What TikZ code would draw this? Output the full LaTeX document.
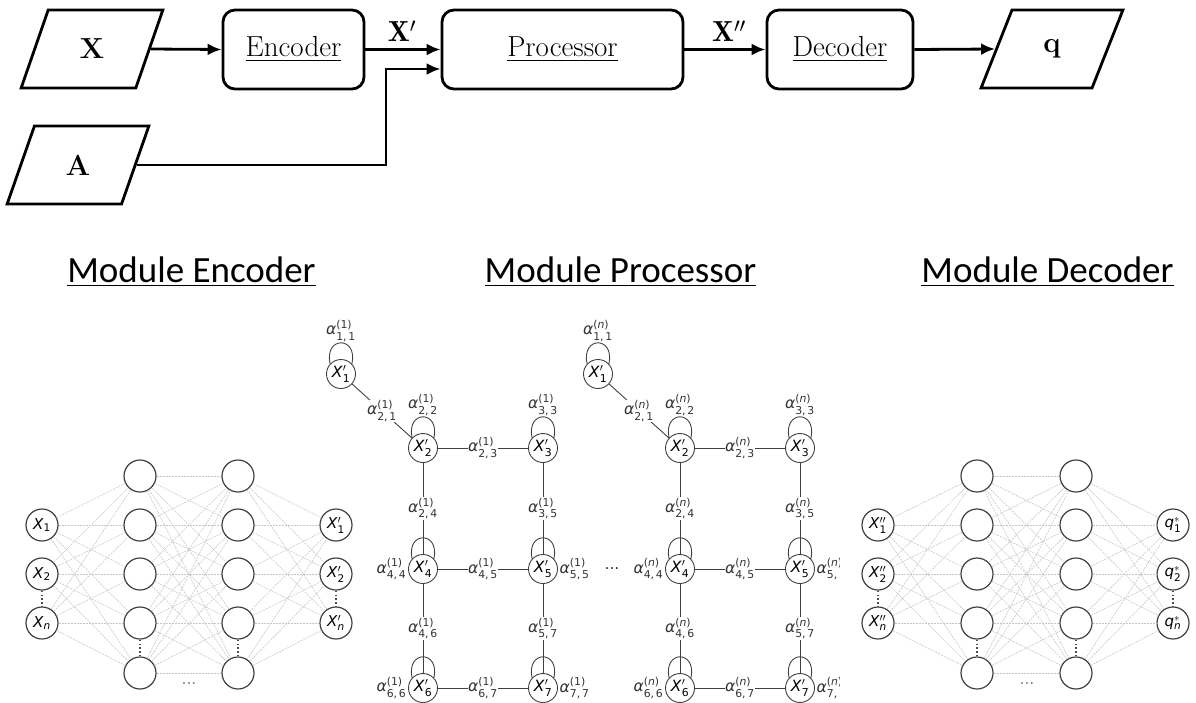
\documentclass[tikz,border=0pt]{standalone}
\usepackage{amsmath}
\usepackage{fontspec}
\usepackage{tikz}
\usetikzlibrary{arrows.meta}
\usetikzlibrary{shapes.geometric}
\newfontfamily\titlefont{Carlito}
\newfontfamily\plotfont{DejaVu Sans}
\newcommand{\alab}[3]{\textit{α}$^{\text{(#1)}}_{\text{#2,\,#3}}$}
\newcommand{\selfloop}[1]{\draw[pedge] (#1.137) .. controls +(-6,-28) and +(6,-28) .. (#1.43);}

\begin{document}
\begin{tikzpicture}[x=1pt,y=-1pt,
  flow/.style={line width=2.8pt,-{Latex[length=14pt,width=12pt]}},
  io/.style={trapezium,trapezium left angle=70,trapezium right angle=110,trapezium stretches=true,
    draw,line width=2.8pt,minimum width=142pt,minimum height=78pt,font=\fontsize{29}{32}\selectfont\bfseries},
  box/.style={draw,line width=2.8pt,rounded corners=12pt,minimum height=79pt,font=\fontsize{29}{32}\selectfont},
  title/.style={font=\titlefont\fontsize{37}{40}\selectfont,anchor=base},
  nnode/.style={circle,draw=black!75,line width=1.2pt,minimum size=32pt,inner sep=0pt,font=\plotfont\fontsize{15}{15}\selectfont},
  nedge/.style={draw=black!22,line width=0.6pt,dash pattern=on 2pt off 1pt},
  ndots/.style={draw=black!70,line width=1.3pt,dash pattern=on 1.3pt off 2.6pt},
  pnode/.style={circle,draw=black!75,line width=0.9pt,minimum size=29pt,inner sep=0pt,font=\plotfont\fontsize{15.5}{15.5}\selectfont},
  pedge/.style={draw=black!75,line width=0.9pt},
  lab/.style={font=\plotfont\fontsize{15.5}{15.5}\selectfont,inner sep=0.5pt,text=black!80}]
\useasboundingbox (0,0) rectangle (1196,702);

% top row
\node[io] (x) at (92,49) {X};
\node[io] (a) at (78,165) {A};
\node[box,minimum width=141pt] (enc) at (293.5,49.5) {\underline{Encoder}};
\node[box,minimum width=241pt] (proc) at (562.5,49.5) {\underline{Processor}};
\node[box,minimum width=146pt] (dec) at (840,49.5) {\underline{Decoder}};
\node[io] (q) at (1052,49) {q};
\draw[flow] (x.east) -- (enc.west);
\draw[flow] (enc.east) -- (proc.west);
\draw[flow] (proc.east) -- (dec.west);
\draw[flow] (dec.east) -- (q.west);
\coordinate (bend) at (386,69);
\draw[flow] (a.east) -| (bend) -- (bend -| proc.west);
\node[font=\fontsize{29}{32}\selectfont] (xp) at (402,31) {$\mathbf{X}'$};
\node[font=\fontsize{29}{32}\selectfont] (xpp) at (729,31) {$\mathbf{X}''$};

% titles
\node[title] (tenc) at (191.5,282) {\underline{Module Encoder}};
\node[title] (tproc) at (620.5,282) {\underline{Module Processor}};
\node[title] (tdec) at (1047.5,282) {\underline{Module Decoder}};

% encoder network
\foreach \k/\y in {1/476,2/525,3/574,4/623,5/673} {
  \node[nnode] (ea\k) at (140,\y) {};
  \node[nnode] (eb\k) at (238,\y) {};
}
\node[nnode] (ei1) at (42,525) {\textit{X}$_{\text{1}}$};
\node[nnode] (ei2) at (42,574) {\textit{X}$_{\text{2}}$};
\node[nnode] (ei3) at (42,623) {\textit{X}$_{\text{\itshape n}}$};
\node[nnode] (eo1) at (336,525) {\textit{X}$'_{\text{1}}$};
\node[nnode] (eo2) at (336,574) {\textit{X}$'_{\text{2}}$};
\node[nnode] (eo3) at (336,623) {\textit{X}$'_{\text{\itshape n}}$};
\foreach \i in {1,2,3}
  \foreach \j in {1,...,5} {
    \draw[nedge] (ei\i) -- (ea\j);
    \draw[nedge] (eb\j) -- (eo\i);
  }
\foreach \i in {1,...,5}
  \foreach \j in {1,...,5}
    \draw[nedge] (ea\i) -- (eb\j);
\draw[ndots] (ei2) -- (ei3);
\draw[ndots] (eo2) -- (eo3);
\draw[ndots] (ea4) -- (ea5);
\draw[ndots] (eb4) -- (eb5);
\node[lab,text=black!50] (edots) at (189,684) {...};

% processor
\begin{scope}
\clip (280,300) rectangle (839,702);
\foreach \dx/\s/\nm in {0/1/a,257/{\textit{n}}/b} {
  \node[pnode,label={[lab,label distance=17pt]above:\alab{\s}{1}{1}}] (\nm1) at (341+\dx,374) {\textit{X}$'_{\text{1}}$};
  \node[pnode,label={[lab,label distance=17pt]above:\alab{\s}{2}{2}}] (\nm2) at (423+\dx,448) {\textit{X}$'_{\text{2}}$};
  \node[pnode,label={[lab,label distance=17pt]above:\alab{\s}{3}{3}}] (\nm3) at (543+\dx,448) {\textit{X}$'_{\text{3}}$};
  \node[pnode,label={[lab,label distance=1pt]left:\alab{\s}{4}{4}}] (\nm4) at (423+\dx,569) {\textit{X}$'_{\text{4}}$};
  \node[pnode,label={[lab,label distance=1pt]right:\alab{\s}{5}{5}}] (\nm5) at (543+\dx,569) {\textit{X}$'_{\text{5}}$};
  \node[pnode,label={[lab,label distance=1pt]left:\alab{\s}{6}{6}}] (\nm6) at (423+\dx,688) {\textit{X}$'_{\text{6}}$};
  \node[pnode,label={[lab,label distance=1pt]right:\alab{\s}{7}{7}}] (\nm7) at (543+\dx,688) {\textit{X}$'_{\text{7}}$};
  \draw[pedge] (\nm1) -- node[lab,fill=white] (\nm e21) {\alab{\s}{2}{1}} (\nm2);
  \draw[pedge] (\nm2) -- node[lab,fill=white] (\nm e23) {\alab{\s}{2}{3}} (\nm3);
  \draw[pedge] (\nm2) -- node[lab,fill=white] (\nm e24) {\alab{\s}{2}{4}} (\nm4);
  \draw[pedge] (\nm3) -- node[lab,fill=white] (\nm e35) {\alab{\s}{3}{5}} (\nm5);
  \draw[pedge] (\nm4) -- node[lab,fill=white] (\nm e45) {\alab{\s}{4}{5}} (\nm5);
  \draw[pedge] (\nm4) -- node[lab,fill=white] (\nm e46) {\alab{\s}{4}{6}} (\nm6);
  \draw[pedge] (\nm5) -- node[lab,fill=white] (\nm e57) {\alab{\s}{5}{7}} (\nm7);
  \draw[pedge] (\nm6) -- node[lab,fill=white] (\nm e67) {\alab{\s}{6}{7}} (\nm7);
  \foreach \k in {1,...,7} {\selfloop{\nm\k}}
}
\end{scope}
\node[lab] (pdots) at (612,569) {...};

% decoder network
\foreach \k/\y in {1/476,2/525,3/574,4/623,5/673} {
  \node[nnode] (da\k) at (977,\y) {};
  \node[nnode] (db\k) at (1076,\y) {};
}
\node[nnode] (di1) at (878,525) {\textit{X}$''_{\text{1}}$};
\node[nnode] (di2) at (878,574) {\textit{X}$''_{\text{2}}$};
\node[nnode] (di3) at (878,623) {\textit{X}$''_{\text{\itshape n}}$};
\node[nnode] (do1) at (1173,525) {\textit{q}$^{*}_{\text{1}}$};
\node[nnode] (do2) at (1173,574) {\textit{q}$^{*}_{\text{2}}$};
\node[nnode] (do3) at (1173,623) {\textit{q}$^{*}_{\text{\itshape n}}$};
\foreach \i in {1,2,3}
  \foreach \j in {1,...,5} {
    \draw[nedge] (di\i) -- (da\j);
    \draw[nedge] (db\j) -- (do\i);
  }
\foreach \i in {1,...,5}
  \foreach \j in {1,...,5}
    \draw[nedge] (da\i) -- (db\j);
\draw[ndots] (di2) -- (di3);
\draw[ndots] (do2) -- (do3);
\draw[ndots] (da4) -- (da5);
\draw[ndots] (db4) -- (db5);
\node[lab,text=black!50] (ddots) at (1027,684) {...};
\end{tikzpicture}
\end{document}
